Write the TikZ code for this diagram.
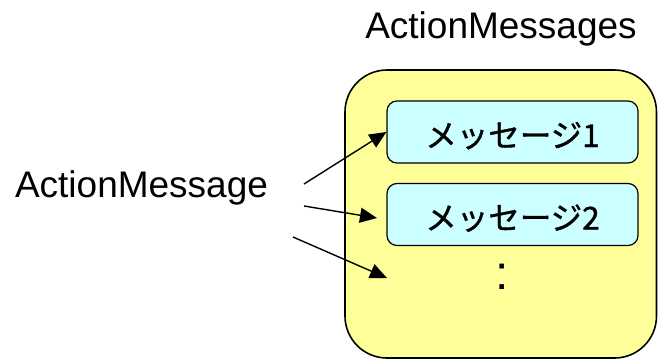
\documentclass[tikz,border=0pt]{standalone}
\usepackage{fontspec}
\setmainfont{Liberation Sans}
\newfontfamily\jpfont[FakeBold=1.2]{Noto Sans CJK JP}
\usetikzlibrary{arrows.meta}

\definecolor{holder}{HTML}{FFFF99}
\definecolor{msgfill}{HTML}{CCFFFF}

\tikzset{
  label text/.style={font=\fontsize{37}{40}\selectfont, inner sep=0pt},
  holderbox/.style={draw=black, line width=1.6pt, fill=holder, rounded corners=42pt},
  msgbox/.style={draw=black, line width=1.2pt, fill=msgfill, rounded corners=10pt,
    minimum width=251pt, minimum height=62pt, inner sep=0pt,
    text height=30pt, text depth=0pt, font=\jpfont\fontsize{31.5}{34}\selectfont},
  link/.style={line width=1.4pt, -{Triangle[length=17pt,width=15pt]}},
}

\begin{document}
\begin{tikzpicture}[x=1pt, y=-1pt]
  \useasboundingbox (0,0) rectangle (658,359);

  % container for the message list
  \draw[holderbox] (345,70) rectangle (656.5,358);
  \node[label text, anchor=base] (title) at (501,38) {ActionMessages};

  % individual messages
  \node[msgbox] (m1) at (512.5,132) {メッセージ1};
  \node[msgbox] (m2) at (512.5,214.5) {メッセージ2};
  \node[font=\fontsize{48}{50}\selectfont, inner sep=0pt, anchor=base] (more) at (502,289) {:};

  % the single message being added
  \node[label text, anchor=base] (single) at (141.5,197) {ActionMessage};

  \coordinate (s1) at (304,184);
  \coordinate (s2) at (304,206);
  \coordinate (s3) at (293,237);
  \coordinate (e2) at (377,218);
  \coordinate (e3) at (387,278);

  \draw[link] (s1) -- (m1.west);
  \draw[link] (s2) -- (e2);
  \draw[link] (s3) -- (e3);
\end{tikzpicture}
\end{document}
